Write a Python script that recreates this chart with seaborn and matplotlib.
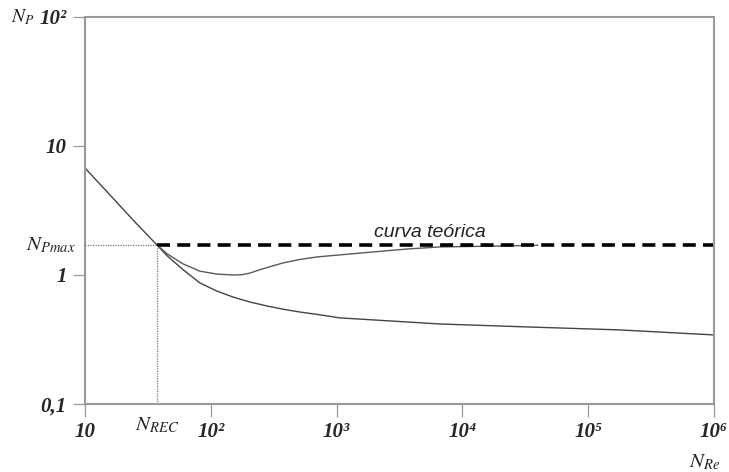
import numpy as np
import pandas as pd
import seaborn as sns
import matplotlib.pyplot as plt
import matplotlib.transforms as mtransforms

# valores
n_re_falling = [10, 15.8, 24.9, 37.3, 44.9, 60.1, 82.0, 112, 150, 205, 280, 375,
                512, 698, 1064, 6640, 34400, 179000, 1e6]
n_p_falling = [6.75, 4.17, 2.58, 1.71, 1.41, 1.10, 0.867, 0.750, 0.675, 0.617,
               0.575, 0.543, 0.516, 0.495, 0.465, 0.417, 0.395, 0.375, 0.343]

n_re_dip = [37.3, 44.9, 60.1, 82, 112, 150, 177, 205, 246, 296, 375, 512, 698,
            1279, 3630, 6640, 22600, 39800]
n_p_dip = [1.71, 1.46, 1.22, 1.07, 1.016, 1.0, 1.005, 1.035, 1.10, 1.16, 1.24,
           1.32, 1.38, 1.455, 1.59, 1.65, 1.68, 1.70]

n_rec = 37.3
n_pmax = 1.71
n_re_end = 1e6

x_ticks = [10, 100, 1e3, 1e4, 1e5, 1e6]
x_ticklabels = ["10", "10²", "10³", "10⁴", "10⁵", "10⁶"]
y_ticks = [0.1, 1, 10, 100]
y_ticklabels = ["0,1", "1", "10", "10²"]

falling = pd.DataFrame({"NRe": n_re_falling, "NP": n_p_falling})
dip = pd.DataFrame({"NRe": n_re_dip, "NP": n_p_dip})

sns.set_style("white")
plt.rcParams["mathtext.fontset"] = "stix"

fig = plt.figure(figsize=(7.29, 4.72), dpi=100)
ax = fig.add_axes([0.1166, 0.1441, 0.9794 - 0.1166, 0.964 - 0.1441])

sns.lineplot(data=falling, x="NRe", y="NP", color="#444444", linewidth=1.0, ax=ax)
sns.lineplot(data=dip, x="NRe", y="NP", color="#5a5a5a", linewidth=1.0, ax=ax)

# curva teorica
ax.plot([n_rec, n_re_end], [n_pmax, n_pmax], color="black", linewidth=2.6,
        linestyle=(0, (3.6, 2.0)))
ax.plot([10, n_rec], [n_pmax, n_pmax], color="#777777", linewidth=0.9,
        linestyle=(0, (1, 1)))
ax.plot([n_rec, n_rec], [0.1, n_pmax], color="#777777", linewidth=0.9,
        linestyle=(0, (1, 1)))

ax.set_xscale("log")
ax.set_yscale("log")
ax.set_xlim(10, 1e6)
ax.set_ylim(0.1, 100)

ax.set_xticks(x_ticks)
ax.set_xticklabels(x_ticklabels)
ax.set_yticks(y_ticks)
ax.set_yticklabels(y_ticklabels)
ax.minorticks_off()

for lab in ax.get_xticklabels() + ax.get_yticklabels():
    lab.set_family(["Liberation Serif", "DejaVu Serif"])
    lab.set_weight("bold")
    lab.set_style("italic")
    lab.set_size(15)

ax.tick_params(axis="both", direction="out", length=9, width=0.9,
               color="#999999", pad=4, bottom=True, left=True)

for s in ax.spines.values():
    s.set_color("#999999")
    s.set_linewidth(1.5)

ax.set_xlabel("")
ax.set_ylabel("")

trans_y = mtransforms.blended_transform_factory(ax.transAxes, ax.transData)
trans_x = mtransforms.blended_transform_factory(ax.transData, ax.transAxes)

ax.text(-0.015, n_pmax, r"$N_{Pmax}$", transform=trans_y, ha="right",
        va="center", fontsize=15, color="#222222")
ax.text(n_rec, -0.028, r"$N_{REC}$", transform=trans_x, ha="center",
        va="top", fontsize=15, color="#222222")
ax.text(-0.118, 1.0, r"$N_P$", transform=ax.transAxes, ha="left",
        va="center", fontsize=14, color="#222222")
ax.text(0.985, -0.125, r"$N_{Re}$", transform=ax.transAxes, ha="center",
        va="top", fontsize=15, color="#222222")

ax.text(5500, 1.82, "curva teórica", ha="center", va="bottom",
        family="Liberation Sans", style="italic", fontsize=14, color="#222222")

fig.savefig("out.png", dpi=100)
